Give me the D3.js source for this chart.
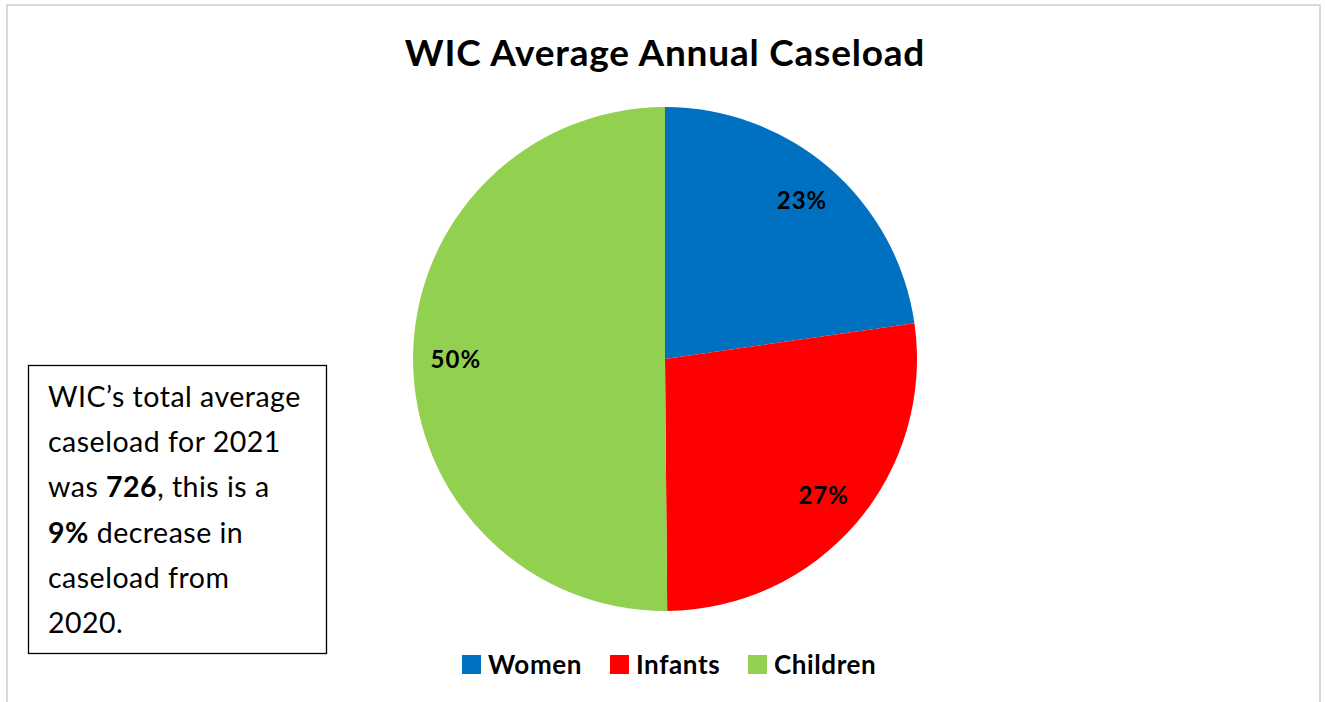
<!DOCTYPE html>
<html><head><meta charset="utf-8">
<script src="https://cdn.jsdelivr.net/npm/d3@7"></script>
<style>body{margin:0;background:#fff;}svg{display:block;}</style>
</head><body>
<svg id="c" width="1325" height="702"></svg>
<script>
const categories = ["Women", "Infants", "Children"];
const values = [165, 197, 364];
const colors = ["#0070C0", "#FF0000", "#92D050"];
const labels = ["23%", "27%", "50%"];
const title = "WIC Average Annual Caseload";
const noteLines = [
  [["WIC’s total average", false]],
  [["caseload for 2021", false]],
  [["was ", false], ["726", true], [", this is a", false]],
  [["9%", true], [" decrease in", false]],
  [["caseload from", false]],
  [["2020.", false]]
];

const font = "Lato, 'Open Sans', sans-serif";
const svg = d3.select("#c");
svg.append("rect").attr("x", 7).attr("y", 5).attr("width", 1313).attr("height", 710)
  .attr("fill", "#fff").attr("stroke", "#d9d9d9").attr("stroke-width", 2);

svg.append("text").attr("x", 665).attr("y", 66).attr("text-anchor", "middle")
  .attr("font-family", font).attr("font-weight", "bold").attr("font-size", 37)
  .attr("letter-spacing", 0.8)
  .attr("fill", "#000").text(title);

const cx = 665, cy = 359, r = 252;
const pie = d3.pie().sort(null).value(d => d)(values);
const arc = d3.arc().innerRadius(0).outerRadius(r);
const g = svg.append("g").attr("transform", `translate(${cx},${cy})`);
g.selectAll("path").data(pie).join("path").attr("d", arc).attr("fill", (d, i) => colors[i]);
const lArc = d3.arc().innerRadius(r * 0.83).outerRadius(r * 0.83);
g.selectAll("text").data(pie).join("text")
  .attr("transform", d => `translate(${lArc.centroid(d)})`)
  .attr("text-anchor", "middle").attr("dy", "0.35em")
  .attr("font-family", font).attr("font-weight", "bold").attr("font-size", 24)
  .attr("letter-spacing", 1)
  .text((d, i) => labels[i]);

// note box
svg.append("rect").attr("x", 28.5).attr("y", 365.5).attr("width", 298).attr("height", 288)
  .attr("fill", "#fff").attr("stroke", "#000").attr("stroke-width", 1.3);
const nt = svg.append("g").attr("font-family", font).attr("font-size", 28.5)
  .attr("letter-spacing", 0.5).attr("fill", "#000");
noteLines.forEach((line, i) => {
  const t = nt.append("text").attr("x", 48).attr("y", 407 + i * 45.2);
  line.forEach(([s, b]) => t.append("tspan").attr("font-weight", b ? "bold" : "normal").text(s));
});

// legend
const legX = [462, 610, 748];
const lg = svg.append("g").attr("font-family", font).attr("font-weight", "bold").attr("font-size", 26)
  .attr("letter-spacing", 0.6);
categories.forEach((c, i) => {
  lg.append("rect").attr("x", legX[i]).attr("y", 655).attr("width", 19).attr("height", 19).attr("fill", colors[i]);
  lg.append("text").attr("x", legX[i] + 26).attr("y", 674).text(c);
});
</script>
</body></html>
